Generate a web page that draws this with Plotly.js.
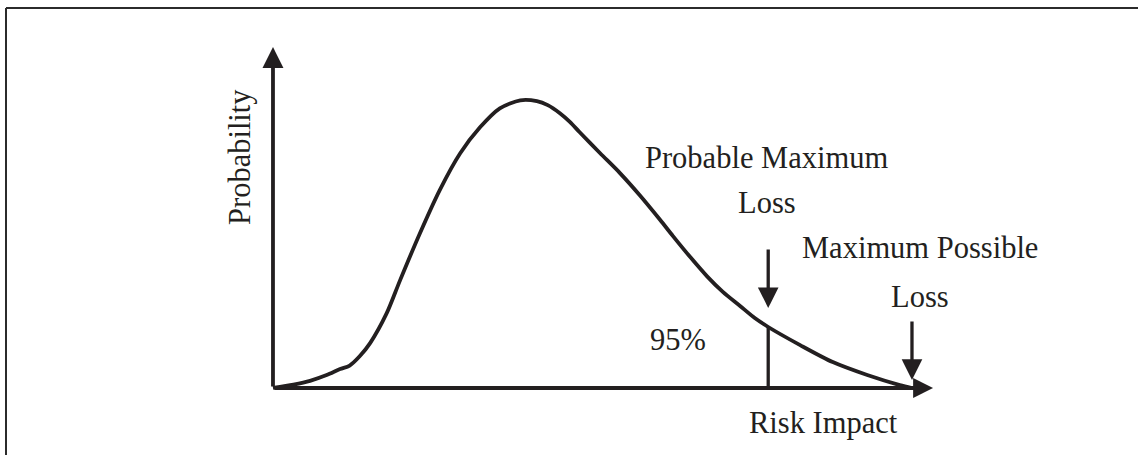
<!DOCTYPE html>
<html>
<head>
<meta charset="utf-8">
<script src="https://cdn.plot.ly/plotly-3.0.1.min.js"></script>
<style>
  html, body { margin: 0; padding: 0; background: #ffffff; }
  #chart { width: 1138px; height: 455px; }
</style>
</head>
<body>
<div id="chart"></div>
<script>
// ---- Data ----
// Loss-distribution curve: risk impact (x) vs probability density (y, peak = 1)
const riskImpact = [0, 3.2, 5.8, 8.4, 10.5, 12.0, 13.6, 15.2, 17.8, 19.9, 23.0, 26.1, 29.3, 32.4, 35.5, 38.7, 41.3, 43.0, 44.9, 46.5, 48.0, 51.2, 54.3, 57.4, 60.6, 62.6, 65.3, 67.9, 70.4, 73.1, 75.4, 77.5, 82.5, 87.6, 93.0, 98.1, 100];
const probability = [0, 0.012, 0.025, 0.045, 0.066, 0.078, 0.111, 0.156, 0.26, 0.375, 0.538, 0.688, 0.816, 0.906, 0.972, 1.0, 0.997, 0.983, 0.955, 0.924, 0.889, 0.816, 0.747, 0.670, 0.584, 0.528, 0.455, 0.389, 0.334, 0.285, 0.243, 0.212, 0.149, 0.090, 0.045, 0.010, 0];

// Marked loss levels
const probableMaxLoss = 77.5;      // 95% quantile
const probableMaxLossDensity = 0.212;
const maxPossibleLoss = 100;

// Text labels
const xAxisLabel = 'Risk Impact';
const yAxisLabel = 'Probability';
const quantileLabel = '95%';
const pmlLabel = ['Probable Maximum', 'Loss'];
const mplLabel = ['Maximum Possible', 'Loss'];

// ---- Styling ----
const ink = '#231f20';
const font = { family: 'Liberation Serif, Times New Roman, serif', size: 30.5, color: ink };

const traces = [
  {
    x: riskImpact, y: probability,
    type: 'scatter', mode: 'lines',
    line: { color: ink, width: 3.8, shape: 'spline', smoothing: 0.8 },
    hoverinfo: 'skip', showlegend: false
  },
  {
    x: [probableMaxLoss, probableMaxLoss], y: [0, probableMaxLossDensity],
    type: 'scatter', mode: 'lines',
    line: { color: ink, width: 3.3 },
    hoverinfo: 'skip', showlegend: false
  }
];

function label(text, x, y, extra) {
  return Object.assign({
    text: text, x: x, y: y, xref: 'x', yref: 'y',
    showarrow: false, xanchor: 'center', yanchor: 'middle', font: font
  }, extra || {});
}

const annotations = [
  // Axes as arrows
  { x: 0, y: 1.185, xref: 'x', yref: 'y', axref: 'x', ayref: 'y', ax: 0, ay: 0,
    text: '', showarrow: true, arrowhead: 2, arrowsize: 1.1, arrowwidth: 3.8, arrowcolor: ink },
  { x: 103.3, y: 0, xref: 'x', yref: 'y', axref: 'x', ayref: 'y', ax: 0, ay: 0,
    text: '', showarrow: true, arrowhead: 2, arrowsize: 1.05, arrowwidth: 3.8, arrowcolor: ink },
  // Pointer arrows
  { x: probableMaxLoss, y: 0.278, xref: 'x', yref: 'y', ax: 0, ay: -60,
    text: '', showarrow: true, arrowhead: 2, arrowsize: 1.25, arrowwidth: 3.3, arrowcolor: ink },
  { x: maxPossibleLoss, y: 0.028, xref: 'x', yref: 'y', ax: 0, ay: -60,
    text: '', showarrow: true, arrowhead: 2, arrowsize: 1.25, arrowwidth: 3.3, arrowcolor: ink },
  // Labels
  label(pmlLabel[0], 77.3, 0.7994),
  label(pmlLabel[1], 77.3, 0.643),
  label(mplLabel[0], 101.2, 0.4866),
  label(mplLabel[1], 101.25, 0.3163),
  label(quantileLabel, 63.4, 0.1668),
  label(xAxisLabel, 86.1, -0.1217),
  label(yAxisLabel, -5.16, 0.803, { textangle: -90 })
];

const shapes = [
  // frame (top and left edges)
  { type: 'line', xref: 'paper', yref: 'paper', x0: 6/1138, x1: 1, y0: 1 - 8/455, y1: 1 - 8/455,
    line: { color: '#2b2b2b', width: 2 } },
  { type: 'line', xref: 'paper', yref: 'paper', x0: 6/1138, x1: 6/1138, y0: 0, y1: 1 - 8/455,
    line: { color: '#2b2b2b', width: 2 } }
];

const layout = {
  width: 1138, height: 455,
  margin: { l: 0, r: 0, t: 0, b: 0 },
  paper_bgcolor: '#ffffff', plot_bgcolor: '#ffffff',
  xaxis: { range: [-42.72, 135.37], visible: false, fixedrange: true },
  yaxis: { range: [-0.2329, 1.3486], visible: false, fixedrange: true },
  showlegend: false,
  annotations: annotations,
  shapes: shapes,
  font: font
};

Plotly.newPlot('chart', traces, layout, { displayModeBar: false, staticPlot: true });
</script>
</body>
</html>
